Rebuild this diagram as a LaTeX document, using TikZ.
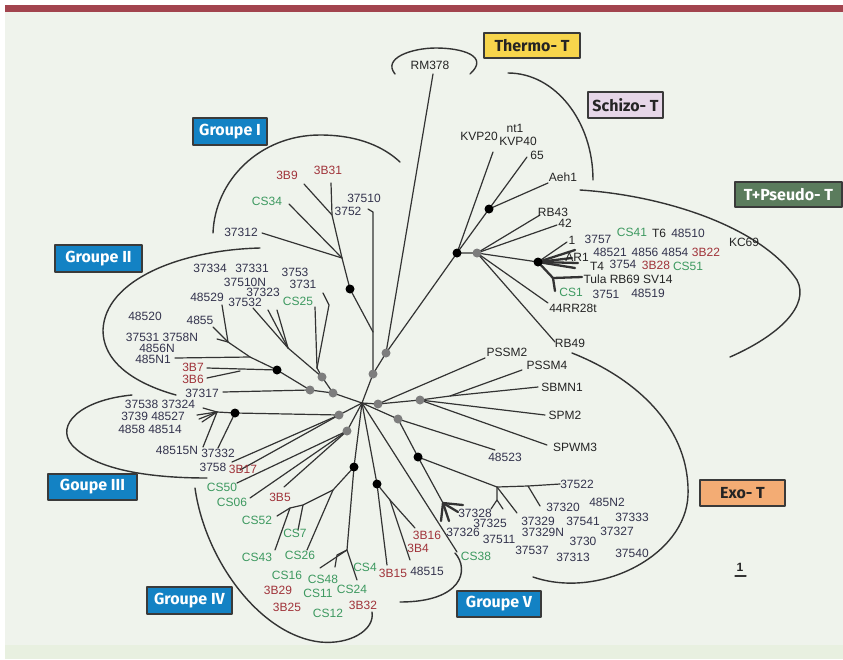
\documentclass[tikz,border=0pt]{standalone}
\usepackage{fontspec}
\setmainfont{Liberation Sans}
\newfontfamily\boxfont{Fira Sans}
\definecolor{nav}{HTML}{33334D}
\definecolor{blk}{HTML}{242424}
\definecolor{rdc}{HTML}{A0333A}
\definecolor{grc}{HTML}{3D9960}
\definecolor{brc}{HTML}{333333}
\definecolor{dotg}{HTML}{7D7D7D}
\definecolor{bgc}{HTML}{EFF3EC}
\definecolor{bgb}{HTML}{E8F0E0}
\definecolor{band}{HTML}{A2444E}
\definecolor{boxc}{HTML}{3A3A3A}
\definecolor{blu}{HTML}{1382C4}
\definecolor{yel}{HTML}{F7D54C}
\definecolor{pur}{HTML}{E6D6E8}
\definecolor{grn}{HTML}{5B7C5D}
\definecolor{ora}{HTML}{F3AC74}
\begin{document}
\begin{tikzpicture}[x=1pt, y=-1pt, line join=round, line cap=round,
  brl/.style={draw=brc, line width=1.2pt},
  fanline/.style={draw=brc, line width=2.3pt},
  grpline/.style={draw=brc, line width=1.4pt},
  lbl/.style={inner sep=0pt, font=\fontsize{12}{13}\selectfont, text=nav},
  bk/.style={text=blk}, rd/.style={text=rdc}, gr/.style={text=grc},
  grp/.style={draw=boxc, line width=1.3pt, fill=blu, text=white, inner sep=0pt,
    font=\boxfont\bfseries\fontsize{16}{17}\selectfont}]
\useasboundingbox (0,0) rectangle (843,659);
\fill[white] (0,0) rectangle (843,659);
\fill[bgc] (5,12) rectangle (843,659);
\fill[bgb] (5,645) rectangle (843,659);
\fill[band] (5,5) rectangle (843,12);

% knots of the tree
\path
 (362,403) coordinate (R)
 (373,374) coordinate (ga)
 (386,353) coordinate (gb)
 (333,393) coordinate (g2a)
 (310,390) coordinate (g2b)
 (322,377) coordinate (g2c)
 (339,415) coordinate (g3a)
 (347,431) coordinate (g3b)
 (378,404) coordinate (g5)
 (420,400) coordinate (g6)
 (398,419) coordinate (g7)
 (477,253) coordinate (t0)
 (350,289) coordinate (b1)
 (457,253) coordinate (s0)
 (489,209) coordinate (s1)
 (538,262) coordinate (t1)
 (277,370) coordinate (b2)
 (235,413) coordinate (b3)
 (418,457) coordinate (b4)
 (354,467) coordinate (b5)
 (377,484) coordinate (b6);

% inner joints and tips
\path
 (373,332) coordinate (k1) (373,212) coordinate (k1top) (368,209) coordinate (k1tick)
 (342,258) coordinate (i1) (332,215) coordinate (i2)
 (262,233) coordinate (x37312) (289,204) coordinate (xcs34)
 (331,183) coordinate (x3b31) (304,184) coordinate (x3b9)
 (433,74) coordinate (xrm)
 (493,152) coordinate (xkvp) (527,157) coordinate (x65) (548,183) coordinate (xaeh)
 (540,215) coordinate (xrb43) (557,225) coordinate (x42) (567,242) coordinate (x1)
 (548,303) coordinate (xrr) (555,342) coordinate (xrb49)
 (575,250) coordinate (f1) (572,258) coordinate (f2) (578,263) coordinate (f3)
 (575,268) coordinate (f4) (553,278) coordinate (tj) (582,277) coordinate (xtula)
 (555,291) coordinate (xcs1)
 (485,358) coordinate (xpssm2) (450,396) coordinate (h1) (522,370) coordinate (xpssm4)
 (538,387) coordinate (xsbmn) (545,415) coordinate (xspm2) (547,445) coordinate (xspwm)
 (495,450) coordinate (x48523)
 (497,487) coordinate (e1) (560,484) coordinate (x37522) (528,486) coordinate (e2)
 (540,506) coordinate (x37320) (497,500) coordinate (e3) (491,509) coordinate (e4)
 (503,509) coordinate (e5) (517,513) coordinate (x37329)
 (443,503) coordinate (fj) (463,505) coordinate (fa) (458,512) coordinate (fb)
 (441,521) coordinate (fc) (449,521) coordinate (fd)
 (457,552) coordinate (xcs38)
 (390,500) coordinate (m1) (415,528) coordinate (x3b16) (410,560) coordinate (x48515)
 (387,565) coordinate (x3b15)
 (333,490) coordinate (n1) (290,508) coordinate (n2) (303,505) coordinate (n3)
 (277,516) coordinate (xcs52) (298,530) coordinate (xcs7) (275,550) coordinate (xcs43)
 (307,550) coordinate (xcs26) (347,550) coordinate (n4) (320,568) coordinate (xcs16)
 (337,555) coordinate (n5) (335,567) coordinate (xcs48) (357,580) coordinate (xcs24)
 (232,462) coordinate (x3758) (240,470) coordinate (x3b17) (237,483) coordinate (xcs50)
 (250,498) coordinate (xcs06) (284,487) coordinate (x3b5)
 (217,412) coordinate (j3) (203,408) coordinate (x37324) (203,447) coordinate (x48515n)
 (218,448) coordinate (x37332)
 (223,392) coordinate (x37317) (207,368) coordinate (x3b7) (240,371) coordinate (p0)
 (207,378) coordinate (x3b6) (250,357) coordinate (p1) (175,358) coordinate (x485n1)
 (228,342) coordinate (p2) (213,327) coordinate (x4855) (222,305) coordinate (x48529)
 (217,339) coordinate (p2t)
 (317,368) coordinate (q1) (315,307) coordinate (xcs25) (329,305) coordinate (q1a)
 (323,293) coordinate (q1b) (288,348) coordinate (q2) (253,308) coordinate (xq2a)
 (268,310) coordinate (xq2b) (277,310) coordinate (xq2c);

% group curves
\draw[grpline] (395,74) .. controls (382,58) and (412,48) .. (436,48) .. controls (462,48) and (490,56) .. (470,74);
\draw[grpline] (508,73) .. controls (555,73) and (593,121) .. (593,180);
\draw[grpline] (580,190) .. controls (660,195) and (760,225) .. (797,280) .. controls (810,305) and (780,335) .. (730,357);
\draw[grpline] (572,353) .. controls (640,380) and (690,430) .. (688,495) .. controls (686,555) and (600,600) .. (533,577);
\draw[grpline] (455,553) .. controls (470,570) and (462,602) .. (400,602);
\draw[grpline] (195,488) .. controls (205,560) and (260,635) .. (320,642) .. controls (350,645) and (375,630) .. (372,612);
\draw[grpline] (132,395) .. controls (80,400) and (55,425) .. (72,445) .. controls (95,470) and (150,478) .. (207,478);
\draw[grpline] (260,248) .. controls (180,250) and (105,280) .. (103,330) .. controls (103,365) and (140,385) .. (176,395);
\draw[grpline] (213,233) .. controls (215,180) and (260,135) .. (320,135) .. controls (360,135) and (385,148) .. (400,162);

% branches
\draw[brl] (R) -- (ga) -- (k1) -- (k1top) -- (k1tick);
\draw[brl] (k1) -- (b1) -- (i1) -- (x37312);
\draw[brl] (i1) -- (xcs34);
\draw[brl] (i1) -- (i2) -- (x3b31);
\draw[brl] (i2) -- (x3b9);
\draw[brl] (ga) -- (gb) -- (xrm);
\draw[brl] (gb) -- (s0) -- (xkvp);
\draw[brl] (s0) -- (s1) -- (x65);
\draw[brl] (s1) -- (xaeh);
\draw[brl] (s0) -- (t0) -- (xrb43);
\draw[brl] (t0) -- (x42);
\draw[brl] (t0) -- (xrr);
\draw[brl] (t0) -- (xrb49);
\draw[brl] (t0) -- (t1) -- (x1);
\foreach \i in {f1,f2,f3,f4}{\draw[fanline] (t1) -- (\i);}
\draw[fanline] (t1) -- (tj) -- (xtula);
\draw[fanline] (tj) -- (xcs1);
\draw[brl] (R) -- (g5) -- (xpssm2);
\draw[brl] (g5) -- (g6) -- (h1) -- (xsbmn);
\draw[brl] (h1) -- (xpssm4);
\draw[brl] (g6) -- (xspm2);
\draw[brl] (g6) -- (xspwm);
\draw[brl] (R) -- (g7) -- (x48523);
\draw[brl] (g7) -- (b4) -- (e1) -- (e2) -- (x37522);
\draw[brl] (e2) -- (x37320);
\draw[brl] (e1) -- (e3) -- (e4);
\draw[brl] (e3) -- (e5);
\draw[brl] (e1) -- (x37329);
\draw[brl] (b4) -- (fj);
\foreach \i in {fa,fb,fc,fd}{\draw[fanline] (fj) -- (\i);}
\draw[brl] (R) -- (xcs38);
\draw[brl] (R) -- (b6) -- (x3b15);
\draw[brl] (b6) -- (m1) -- (x3b16);
\draw[brl] (m1) -- (x48515);
\draw[brl] (R) -- (b5) -- (n1) -- (n3) -- (n2) -- (xcs52);
\draw[brl] (n3) -- (xcs7);
\draw[brl] (n2) -- (xcs43);
\draw[brl] (n1) -- (xcs26);
\draw[brl] (b5) -- (n4) -- (xcs16);
\draw[brl] (n4) -- (n5) -- (xcs48);
\draw[brl] (n4) -- (xcs24);
\draw[brl] (R) -- (g3a) -- (b3) -- (j3) -- (x37324);
\draw[brl] (j3) -- (x48515n);
\foreach \i in {(197,415),(199,419),(202,422)}{\draw[brl] (j3) -- \i;}
\draw[brl] (b3) -- (x37332);
\draw[brl] (g3a) -- (x3758);
\draw[brl] (g3a) -- (x3b17);
\draw[brl] (R) -- (g3b) -- (xcs50);
\draw[brl] (g3b) -- (xcs06);
\draw[brl] (g3b) -- (x3b5);
\draw[brl] (R) -- (g2a) -- (g2b) -- (x37317);
\draw[brl] (g2b) -- (b2) -- (x3b7);
\draw[brl] (p0) -- (x3b6);
\draw[brl] (b2) -- (p1) -- (x485n1);
\draw[brl] (p1) -- (p2) -- (x4855);
\draw[brl] (p2) -- (x48529);
\draw[brl] (p2) -- (p2t);
\draw[brl] (g2a) -- (g2c) -- (q1) -- (xcs25);
\draw[brl] (q1) -- (q1a) -- (q1b);
\draw[brl] (g2c) -- (q2) -- (xq2a);
\draw[brl] (q2) -- (xq2b);
\draw[brl] (q2) -- (xq2c);

\foreach \i in {ga,gb,g2a,g2b,g2c,g3a,g3b,g5,g6,g7,t0}{\fill[dotg] (\i) circle (4.5pt);}
\foreach \i in {b1,s0,s1,t1,b2,b3,b4,b5,b6}{\fill[black] (\i) circle (4.5pt);}

% leaf labels
\node[lbl,bk] (rm378) at (430,65) {RM378};
\node[lbl,bk] (kvp20) at (479,136) {KVP20};
\node[lbl,bk] (nt1) at (515,128) {nt1};
\node[lbl,bk] (kvp40) at (518,141) {KVP40};
\node[lbl,bk] (l65) at (537,155) {65};
\node[lbl,bk] (aeh1) at (563,177) {Aeh1};
\node[lbl,bk] (rb43) at (553,212) {RB43};
\node[lbl,bk] (l42) at (565,223) {42};
\node[lbl,bk] (l1) at (572,240) {1};
\node[lbl] (l3757) at (598,239) {3757};
\node[lbl,gr] (cs41) at (632,232) {CS41};
\node[lbl,bk] (t6) at (659,233) {T6};
\node[lbl] (l48510) at (688,233) {48510};
\node[lbl,bk] (kc69) at (744,242) {KC69};
\node[lbl] (l48521) at (610,252) {48521};
\node[lbl] (l4856) at (645,252) {4856};
\node[lbl] (l4854) at (675,252) {4854};
\node[lbl,rd] (b22) at (706,252) {3B22};
\node[lbl,bk] (ar1) at (577,257) {AR1};
\node[lbl,bk] (t4) at (597,266) {T4};
\node[lbl] (l3754) at (623,264) {3754};
\node[lbl,rd] (b28) at (656,265) {3B28};
\node[lbl,gr] (cs51) at (688,266) {CS51};
\node[lbl,bk] (tula) at (628,279) {Tula RB69 SV14};
\node[lbl,gr] (cs1) at (571,292) {CS1};
\node[lbl] (l3751) at (606,294) {3751};
\node[lbl] (l48519) at (648,293) {48519};
\node[lbl,bk] (rr28) at (573,308) {44RR28t};
\node[lbl,bk] (rb49) at (570,343) {RB49};

\node[lbl,rd] (b9) at (287,175) {3B9};
\node[lbl,rd] (b31) at (328,170) {3B31};
\node[lbl,gr] (cs34) at (267,201) {CS34};
\node[lbl] (l37510) at (364,198) {37510};
\node[lbl] (l3752) at (348,211) {3752};
\node[lbl] (l37312) at (241,232) {37312};

\node[lbl] (l37334) at (210,268) {37334};
\node[lbl] (l37331) at (252,268) {37331};
\node[lbl] (l37510n) at (245,282) {37510N};
\node[lbl] (l37323) at (263,292) {37323};
\node[lbl] (l48529) at (207,297) {48529};
\node[lbl] (l37532) at (245,302) {37532};
\node[lbl] (l3753) at (295,272) {3753};
\node[lbl] (l3731) at (303,284) {3731};
\node[lbl,gr] (cs25) at (298,301) {CS25};
\node[lbl] (l48520) at (145,316) {48520};
\node[lbl] (l4855) at (200,320) {4855};
\node[lbl] (l37531) at (162,337) {37531 3758N};
\node[lbl] (l4856n) at (157,348) {4856N};
\node[lbl] (l485n1) at (153,359) {485N1};
\node[lbl,rd] (b7) at (193,367) {3B7};
\node[lbl,rd] (b6l) at (193,379) {3B6};
\node[lbl] (l37317) at (202,393) {37317};

\node[lbl] (l37538) at (160,404) {37538 37324};
\node[lbl] (l3739) at (153,416) {3739 48527};
\node[lbl] (l4858) at (150,429) {4858 48514};
\node[lbl] (l48515n) at (177,450) {48515N};
\node[lbl] (l37332) at (218,453) {37332};
\node[lbl] (l3758) at (213,467) {3758};
\node[lbl,rd] (b17) at (243,469) {3B17};
\node[lbl,gr] (cs50) at (222,487) {CS50};
\node[lbl,gr] (cs06) at (232,502) {CS06};
\node[lbl,rd] (b5l) at (280,497) {3B5};

\node[lbl,gr] (cs52) at (257,520) {CS52};
\node[lbl,gr] (cs7) at (295,533) {CS7};
\node[lbl,gr] (cs43) at (257,557) {CS43};
\node[lbl,gr] (cs26) at (300,555) {CS26};
\node[lbl,gr] (cs16) at (287,575) {CS16};
\node[lbl,rd] (b29) at (278,590) {3B29};
\node[lbl,rd] (b25) at (287,607) {3B25};
\node[lbl,gr] (cs48) at (323,579) {CS48};
\node[lbl,gr] (cs11) at (318,593) {CS11};
\node[lbl,gr] (cs12) at (328,613) {CS12};
\node[lbl,gr] (cs24) at (352,589) {CS24};
\node[lbl,gr] (cs4) at (365,567) {CS4};
\node[lbl,rd] (b32) at (363,605) {3B32};
\node[lbl,rd] (b15) at (393,573) {3B15};
\node[lbl] (l48515) at (427,571) {48515};
\node[lbl,rd] (b16) at (427,535) {3B16};
\node[lbl,rd] (b4l) at (418,548) {3B4};

\node[lbl,bk] (pssm2) at (507,352) {PSSM2};
\node[lbl,bk] (pssm4) at (547,365) {PSSM4};
\node[lbl,bk] (sbmn1) at (562,387) {SBMN1};
\node[lbl,bk] (spm2) at (565,415) {SPM2};
\node[lbl,bk] (spwm3) at (575,447) {SPWM3};
\node[lbl] (l48523) at (505,457) {48523};
\node[lbl] (l37522) at (577,484) {37522};
\node[lbl] (l37320) at (563,507) {37320};
\node[lbl] (l485n2) at (607,502) {485N2};
\node[lbl] (l37328) at (475,513) {37328};
\node[lbl] (l37325) at (490,523) {37325};
\node[lbl] (l37326) at (463,532) {37326};
\node[lbl] (l37511) at (499,539) {37511};
\node[lbl] (l37329) at (538,521) {37329};
\node[lbl] (l37329n) at (543,532) {37329N};
\node[lbl] (l37541) at (583,521) {37541};
\node[lbl] (l37333) at (632,517) {37333};
\node[lbl] (l37327) at (617,531) {37327};
\node[lbl] (l3730) at (583,541) {3730};
\node[lbl] (l37537) at (532,550) {37537};
\node[lbl] (l37313) at (573,557) {37313};
\node[lbl] (l37540) at (632,553) {37540};
\node[lbl,gr] (cs38) at (476,556) {CS38};

% scale
\node[lbl,bk,font=\fontsize{12}{13}\selectfont\bfseries] (scl) at (740,567) {1};
\path (735,576) coordinate (sa) (746,576) coordinate (sb);
\draw[brc, line width=1.3pt] (sa) -- (sb);

% group boxes
\node[grp, fill=yel, text=blk, minimum width=96pt, minimum height=25pt] (thermo) at (532,45.5) {Thermo- T};
\node[grp, fill=pur, text=blk, minimum width=75pt, minimum height=26pt] (schizo) at (625.5,105) {Schizo- T};
\node[grp, fill=grn, minimum width=107pt, minimum height=25pt] (pseudo) at (788.5,194.5) {T+Pseudo- T};
\node[grp, minimum width=74pt, minimum height=27pt] (grpI) at (230,131.5) {Groupe I};
\node[grp, minimum width=87pt, minimum height=27pt] (grpII) at (98.5,258.5) {Groupe II};
\node[grp, minimum width=89pt, minimum height=26pt] (grpIII) at (92.5,487) {Goupe III};
\node[grp, minimum width=85pt, minimum height=27pt] (grpIV) at (189.5,600.5) {Groupe IV};
\node[grp, minimum width=84pt, minimum height=26pt] (grpV) at (499,604) {Groupe V};
\node[grp, fill=ora, text=blk, minimum width=85pt, minimum height=26pt] (exo) at (742.5,493) {Exo- T};
\end{tikzpicture}
\end{document}
